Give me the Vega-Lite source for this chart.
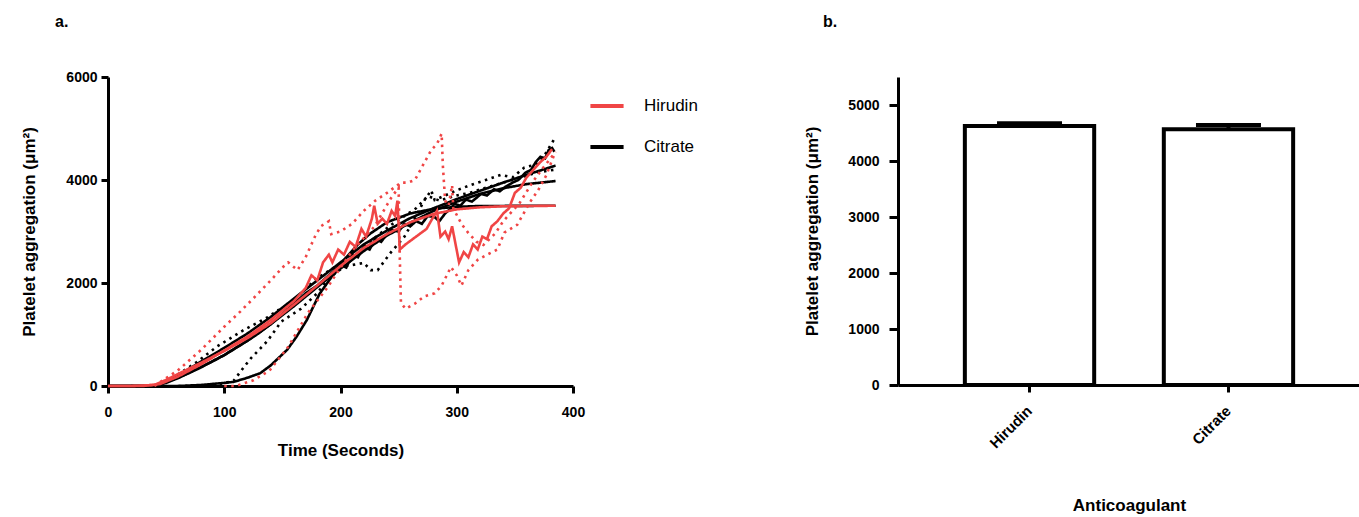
{
"$schema": "https://vega.github.io/schema/vega-lite/v6.json",
"background": "white",
"padding": {"left": 20, "top": 14, "right": 0, "bottom": 5},
"spacing": 95,
"resolve": {"legend": {"color": "independent"}, "scale": {"color": "independent"}},
"config": {
  "font": "Liberation Sans",
  "view": {"stroke": null},
  "axis": {"domainColor": "black", "domainWidth": 3, "tickColor": "black", "tickWidth": 3, "labelFont": "Liberation Sans", "labelFontWeight": "bold", "labelFontSize": 14, "labelColor": "black", "titleFont": "Liberation Sans", "titleFontWeight": "bold", "titleFontSize": 17, "titleColor": "black", "grid": false, "labelFlush": false},
  "title": {"fontSize": 16, "fontWeight": "bold", "anchor": "start", "frame": "group", "color": "black", "font": "Liberation Sans"}
},
"datasets": {
  "series": [
    {"s": "BF1", "g": "Citrate", "k": "solid"},
    {"s": "BF2", "g": "Citrate", "k": "solid"},
    {"s": "BF3", "g": "Citrate", "k": "solid"},
    {"s": "BM", "g": "Citrate", "k": "solid"},
    {"s": "BU", "g": "Citrate", "k": "dotted"},
    {"s": "BL", "g": "Citrate", "k": "dotted"},
    {"s": "RF", "g": "Hirudin", "k": "solid"},
    {"s": "RM", "g": "Hirudin", "k": "solid"},
    {"s": "RU", "g": "Hirudin", "k": "dotted"},
    {"s": "RL", "g": "Hirudin", "k": "dotted"}
  ],
  "pts": [
    {"s":"BF1","t":0,"v":0},{"s":"BF1","t":60,"v":0},{"s":"BF1","t":80,"v":20},{"s":"BF1","t":100,"v":60},{"s":"BF1","t":108,"v":80},{"s":"BF1","t":120,"v":160},{"s":"BF1","t":131,"v":250},{"s":"BF1","t":140,"v":400},{"s":"BF1","t":154,"v":700},{"s":"BF1","t":162,"v":950},{"s":"BF1","t":171,"v":1280},{"s":"BF1","t":182,"v":1790},{"s":"BF1","t":194,"v":2170},{"s":"BF1","t":205,"v":2500},{"s":"BF1","t":215,"v":2750},{"s":"BF1","t":225,"v":2950},{"s":"BF1","t":240,"v":3180},{"s":"BF1","t":260,"v":3350},{"s":"BF1","t":280,"v":3440},{"s":"BF1","t":300,"v":3480},{"s":"BF1","t":320,"v":3495},{"s":"BF1","t":385,"v":3500},
    {"s":"BF2","t":0,"v":0},{"s":"BF2","t":40,"v":0},{"s":"BF2","t":50,"v":60},{"s":"BF2","t":60,"v":150},{"s":"BF2","t":79,"v":350},{"s":"BF2","t":100,"v":600},{"s":"BF2","t":120,"v":880},{"s":"BF2","t":140,"v":1200},{"s":"BF2","t":160,"v":1550},{"s":"BF2","t":180,"v":1920},{"s":"BF2","t":200,"v":2280},{"s":"BF2","t":220,"v":2620},{"s":"BF2","t":240,"v":2920},{"s":"BF2","t":260,"v":3170},{"s":"BF2","t":280,"v":3400},{"s":"BF2","t":300,"v":3580},{"s":"BF2","t":320,"v":3730},{"s":"BF2","t":340,"v":3840},{"s":"BF2","t":360,"v":3920},{"s":"BF2","t":385,"v":3980},
    {"s":"BF3","t":0,"v":0},{"s":"BF3","t":40,"v":0},{"s":"BF3","t":50,"v":90},{"s":"BF3","t":60,"v":200},{"s":"BF3","t":79,"v":460},{"s":"BF3","t":100,"v":740},{"s":"BF3","t":120,"v":1020},{"s":"BF3","t":140,"v":1340},{"s":"BF3","t":160,"v":1700},{"s":"BF3","t":180,"v":2050},{"s":"BF3","t":200,"v":2400},{"s":"BF3","t":220,"v":2750},{"s":"BF3","t":240,"v":3020},{"s":"BF3","t":260,"v":3260},{"s":"BF3","t":280,"v":3450},{"s":"BF3","t":300,"v":3630},{"s":"BF3","t":320,"v":3790},{"s":"BF3","t":340,"v":3950},{"s":"BF3","t":360,"v":4100},{"s":"BF3","t":385,"v":4280},
    {"s":"BM","t":0,"v":0},{"s":"BM","t":40,"v":0},{"s":"BM","t":50,"v":80},{"s":"BM","t":60,"v":160},{"s":"BM","t":70,"v":260},{"s":"BM","t":80,"v":370},{"s":"BM","t":90,"v":480},{"s":"BM","t":100,"v":600},{"s":"BM","t":110,"v":740},{"s":"BM","t":120,"v":880},{"s":"BM","t":130,"v":1030},{"s":"BM","t":140,"v":1200},{"s":"BM","t":150,"v":1400},{"s":"BM","t":160,"v":1600},{"s":"BM","t":170,"v":1800},{"s":"BM","t":180,"v":1950},{"s":"BM","t":190,"v":2150},{"s":"BM","t":200,"v":2350},{"s":"BM","t":205,"v":2300},{"s":"BM","t":210,"v":2550},{"s":"BM","t":215,"v":2500},{"s":"BM","t":220,"v":2700},{"s":"BM","t":225,"v":2650},{"s":"BM","t":230,"v":2850},{"s":"BM","t":235,"v":2800},{"s":"BM","t":240,"v":2950},{"s":"BM","t":244,"v":3030},{"s":"BM","t":250,"v":3000},{"s":"BM","t":255,"v":3150},{"s":"BM","t":260,"v":3100},{"s":"BM","t":265,"v":3200},{"s":"BM","t":270,"v":3150},{"s":"BM","t":275,"v":3300},{"s":"BM","t":281,"v":3280},{"s":"BM","t":285,"v":3200},{"s":"BM","t":290,"v":3350},{"s":"BM","t":295,"v":3450},{"s":"BM","t":298,"v":3540},{"s":"BM","t":303,"v":3500},{"s":"BM","t":308,"v":3620},{"s":"BM","t":313,"v":3580},{"s":"BM","t":321,"v":3730},{"s":"BM","t":326,"v":3700},{"s":"BM","t":332,"v":3820},{"s":"BM","t":337,"v":3780},{"s":"BM","t":342,"v":3870},{"s":"BM","t":348,"v":3950},{"s":"BM","t":353,"v":4000},{"s":"BM","t":359,"v":4140},{"s":"BM","t":364,"v":4200},{"s":"BM","t":368,"v":4350},{"s":"BM","t":372,"v":4450},{"s":"BM","t":376,"v":4420},{"s":"BM","t":379,"v":4580},{"s":"BM","t":382,"v":4620},{"s":"BM","t":384,"v":4550},
    {"s":"BU","t":20,"v":0},{"s":"BU","t":40,"v":0},{"s":"BU","t":50,"v":100},{"s":"BU","t":60,"v":220},{"s":"BU","t":76,"v":460},{"s":"BU","t":94,"v":770},{"s":"BU","t":117,"v":1090},{"s":"BU","t":137,"v":1330},{"s":"BU","t":146,"v":1470},{"s":"BU","t":155,"v":1530},{"s":"BU","t":166,"v":1800},{"s":"BU","t":180,"v":2100},{"s":"BU","t":195,"v":2300},{"s":"BU","t":210,"v":2350},{"s":"BU","t":220,"v":2390},{"s":"BU","t":226,"v":2250},{"s":"BU","t":232,"v":2250},{"s":"BU","t":243,"v":2585},{"s":"BU","t":255,"v":2900},{"s":"BU","t":265,"v":3300},{"s":"BU","t":272,"v":3600},{"s":"BU","t":278,"v":3800},{"s":"BU","t":281,"v":3610},{"s":"BU","t":290,"v":3700},{"s":"BU","t":300,"v":3800},{"s":"BU","t":311,"v":3895},{"s":"BU","t":325,"v":4000},{"s":"BU","t":338,"v":4100},{"s":"BU","t":348,"v":4050},{"s":"BU","t":358,"v":4240},{"s":"BU","t":368,"v":4300},{"s":"BU","t":376,"v":4500},{"s":"BU","t":384,"v":4800},
    {"s":"BL","t":60,"v":0},{"s":"BL","t":90,"v":0},{"s":"BL","t":108,"v":100},{"s":"BL","t":117,"v":370},{"s":"BL","t":123,"v":540},{"s":"BL","t":137,"v":870},{"s":"BL","t":149,"v":1250},{"s":"BL","t":166,"v":1500},{"s":"BL","t":180,"v":1800},{"s":"BL","t":189,"v":2070},{"s":"BL","t":206,"v":2370},{"s":"BL","t":223,"v":2760},{"s":"BL","t":243,"v":3120},{"s":"BL","t":255,"v":3300},{"s":"BL","t":265,"v":3450},{"s":"BL","t":275,"v":3690},{"s":"BL","t":285,"v":3600},{"s":"BL","t":300,"v":3700},{"s":"BL","t":311,"v":3750},{"s":"BL","t":325,"v":3850},{"s":"BL","t":340,"v":3950},{"s":"BL","t":355,"v":4050},{"s":"BL","t":370,"v":4150},{"s":"BL","t":384,"v":4200},
    {"s":"RF","t":0,"v":0},{"s":"RF","t":20,"v":0},{"s":"RF","t":40,"v":20},{"s":"RF","t":50,"v":120},{"s":"RF","t":60,"v":230},{"s":"RF","t":80,"v":450},{"s":"RF","t":100,"v":680},{"s":"RF","t":120,"v":930},{"s":"RF","t":140,"v":1220},{"s":"RF","t":160,"v":1580},{"s":"RF","t":180,"v":1950},{"s":"RF","t":200,"v":2330},{"s":"RF","t":220,"v":2680},{"s":"RF","t":240,"v":2950},{"s":"RF","t":260,"v":3180},{"s":"RF","t":280,"v":3340},{"s":"RF","t":300,"v":3430},{"s":"RF","t":320,"v":3470},{"s":"RF","t":340,"v":3490},{"s":"RF","t":385,"v":3500},
    {"s":"RM","t":0,"v":0},{"s":"RM","t":30,"v":0},{"s":"RM","t":45,"v":40},{"s":"RM","t":60,"v":180},{"s":"RM","t":80,"v":420},{"s":"RM","t":100,"v":690},{"s":"RM","t":120,"v":960},{"s":"RM","t":140,"v":1280},{"s":"RM","t":160,"v":1650},{"s":"RM","t":170,"v":1900},{"s":"RM","t":175,"v":2150},{"s":"RM","t":180,"v":2050},{"s":"RM","t":185,"v":2400},{"s":"RM","t":190,"v":2550},{"s":"RM","t":193,"v":2400},{"s":"RM","t":198,"v":2650},{"s":"RM","t":203,"v":2550},{"s":"RM","t":208,"v":2800},{"s":"RM","t":213,"v":2700},{"s":"RM","t":218,"v":3050},{"s":"RM","t":222,"v":2900},{"s":"RM","t":227,"v":3250},{"s":"RM","t":229,"v":3500},{"s":"RM","t":232,"v":3150},{"s":"RM","t":236,"v":3250},{"s":"RM","t":240,"v":3150},{"s":"RM","t":244,"v":3400},{"s":"RM","t":247,"v":3300},{"s":"RM","t":249,"v":3600},{"s":"RM","t":251,"v":2650},{"s":"RM","t":256,"v":2750},{"s":"RM","t":262,"v":2850},{"s":"RM","t":268,"v":2950},{"s":"RM","t":274,"v":3050},{"s":"RM","t":279,"v":3250},{"s":"RM","t":283,"v":3400},{"s":"RM","t":286,"v":2900},{"s":"RM","t":290,"v":3000},{"s":"RM","t":293,"v":2850},{"s":"RM","t":296,"v":3100},{"s":"RM","t":299,"v":2750},{"s":"RM","t":302,"v":2400},{"s":"RM","t":306,"v":2600},{"s":"RM","t":310,"v":2500},{"s":"RM","t":314,"v":2750},{"s":"RM","t":318,"v":2650},{"s":"RM","t":322,"v":2900},{"s":"RM","t":326,"v":2850},{"s":"RM","t":330,"v":3100},{"s":"RM","t":335,"v":3200},{"s":"RM","t":340,"v":3350},{"s":"RM","t":345,"v":3450},{"s":"RM","t":350,"v":3750},{"s":"RM","t":355,"v":3850},{"s":"RM","t":360,"v":4050},{"s":"RM","t":366,"v":4200},{"s":"RM","t":372,"v":4350},{"s":"RM","t":377,"v":4450},{"s":"RM","t":382,"v":4600},
    {"s":"RU","t":40,"v":0},{"s":"RU","t":47,"v":110},{"s":"RU","t":60,"v":300},{"s":"RU","t":80,"v":700},{"s":"RU","t":100,"v":1150},{"s":"RU","t":114,"v":1450},{"s":"RU","t":125,"v":1700},{"s":"RU","t":140,"v":2050},{"s":"RU","t":150,"v":2300},{"s":"RU","t":155,"v":2400},{"s":"RU","t":163,"v":2250},{"s":"RU","t":170,"v":2500},{"s":"RU","t":178,"v":2900},{"s":"RU","t":183,"v":3100},{"s":"RU","t":190,"v":3200},{"s":"RU","t":192,"v":2950},{"s":"RU","t":200,"v":3000},{"s":"RU","t":210,"v":3150},{"s":"RU","t":220,"v":3400},{"s":"RU","t":230,"v":3600},{"s":"RU","t":240,"v":3750},{"s":"RU","t":246,"v":3850},{"s":"RU","t":252,"v":3950},{"s":"RU","t":258,"v":3950},{"s":"RU","t":264,"v":4000},{"s":"RU","t":270,"v":4250},{"s":"RU","t":278,"v":4580},{"s":"RU","t":283,"v":4700},{"s":"RU","t":287,"v":4900},{"s":"RU","t":288,"v":4300},{"s":"RU","t":290,"v":3600},{"s":"RU","t":293,"v":3500},{"s":"RU","t":296,"v":3900},{"s":"RU","t":297,"v":3450},{"s":"RU","t":304,"v":3150},{"s":"RU","t":310,"v":2970},{"s":"RU","t":317,"v":2800},{"s":"RU","t":323,"v":2740},{"s":"RU","t":333,"v":2960},{"s":"RU","t":340,"v":3200},{"s":"RU","t":354,"v":3550},{"s":"RU","t":365,"v":3950},{"s":"RU","t":373,"v":4200},{"s":"RU","t":380,"v":4400},{"s":"RU","t":385,"v":4550},
    {"s":"RL","t":100,"v":0},{"s":"RL","t":110,"v":0},{"s":"RL","t":125,"v":110},{"s":"RL","t":139,"v":300},{"s":"RL","t":155,"v":760},{"s":"RL","t":172,"v":1420},{"s":"RL","t":189,"v":1920},{"s":"RL","t":200,"v":2300},{"s":"RL","t":212,"v":2680},{"s":"RL","t":229,"v":3090},{"s":"RL","t":244,"v":3670},{"s":"RL","t":250,"v":3850},{"s":"RL","t":251,"v":2500},{"s":"RL","t":252,"v":1610},{"s":"RL","t":256,"v":1500},{"s":"RL","t":264,"v":1600},{"s":"RL","t":272,"v":1740},{"s":"RL","t":281,"v":1800},{"s":"RL","t":287,"v":1950},{"s":"RL","t":295,"v":2310},{"s":"RL","t":300,"v":2150},{"s":"RL","t":304,"v":1950},{"s":"RL","t":310,"v":2250},{"s":"RL","t":318,"v":2450},{"s":"RL","t":326,"v":2550},{"s":"RL","t":335,"v":2650},{"s":"RL","t":341,"v":2980},{"s":"RL","t":352,"v":3130},{"s":"RL","t":363,"v":3570},{"s":"RL","t":370,"v":3800},{"s":"RL","t":377,"v":4090},{"s":"RL","t":384,"v":4500}
  ]
},
"hconcat": [
  {
    "title": {"text": "a.", "dx": -53, "offset": 40},
    "width": 465,
    "height": 309,
    "data": {"name": "pts"},
    "transform": [{"lookup": "s", "from": {"data": {"name": "series"}, "key": "s", "fields": ["g", "k"]}}],
    "mark": {"type": "line", "strokeWidth": 2.6},
    "encoding": {
      "x": {"field": "t", "type": "quantitative", "scale": {"domain": [0, 400], "nice": false},
            "axis": {"values": [0, 100, 200, 300, 400], "format": "d", "title": "Time (Seconds)", "tickSize": 7, "labelPadding": 12, "titlePadding": 23}},
      "y": {"field": "v", "type": "quantitative", "scale": {"domain": [0, 6000], "nice": false},
            "axis": {"values": [0, 2000, 4000, 6000], "format": "d", "title": "Platelet aggregation (μm²)", "tickSize": 7, "labelPadding": 4, "titlePadding": 27}},
      "color": {"field": "g", "type": "nominal", "scale": {"domain": ["Hirudin", "Citrate"], "range": ["#f04545", "#000000"]},
                "legend": {"title": null, "orient": "right", "offset": 5, "padding": 10, "symbolType": "stroke", "symbolSize": 1100, "symbolStrokeWidth": 4, "labelFontSize": 17, "labelFont": "Liberation Sans", "labelColor": "black", "labelOffset": 18, "rowPadding": 14}},
      "strokeDash": {"field": "k", "type": "nominal", "scale": {"domain": ["solid", "dotted"], "range": [[1, 0], [2.5, 4.5]]}, "legend": null},
      "detail": {"field": "s", "type": "nominal"}
    }
  },
  {
    "title": {"text": "b.", "dx": -75, "offset": 47},
    "width": 462,
    "height": 308,
    "data": {"values": [{"a": "Hirudin", "m": 4625, "u": 4673}, {"a": "Citrate", "m": 4566, "u": 4643}]},
    "encoding": {
      "x": {"field": "a", "type": "nominal", "sort": null, "scale": {"paddingInner": 0.35, "paddingOuter": 0.336},
            "axis": {"title": "Anticoagulant", "labelAngle": -45, "labelAlign": "right", "labelBaseline": "middle", "labelFontSize": 15, "tickSize": 7, "labelPadding": 16, "titlePadding": 47}}
    },
    "layer": [
      {"mark": {"type": "bar", "fill": "white", "stroke": "black", "strokeWidth": 4, "opacity": 1},
       "encoding": {"y": {"field": "m", "type": "quantitative", "scale": {"domain": [0, 5500], "nice": false},
          "axis": {"values": [0,250,500,750,1000,1250,1500,1750,2000,2250,2500,2750,3000,3250,3500,3750,4000,4250,4500,4750,5000,5250,5500], "format": "d", "labelExpr": "datum.value % 1000 === 0 ? datum.label : ''", "tickSize": {"condition": {"test": "datum.value % 1000 === 0", "value": 9}, "value": 5}, "labelPadding": 10, "title": "Platelet aggregation (μm²)", "titlePadding": 26}}}},
      {"mark": {"type": "rule", "strokeWidth": 4, "color": "black", "opacity": 1},
       "encoding": {"y": {"field": "m", "type": "quantitative"}, "y2": {"field": "u"}}},
      {"mark": {"type": "tick", "thickness": 4, "size": 65, "color": "black", "opacity": 1},
       "encoding": {"y": {"field": "u", "type": "quantitative"}}}
    ]
  }
]
}
